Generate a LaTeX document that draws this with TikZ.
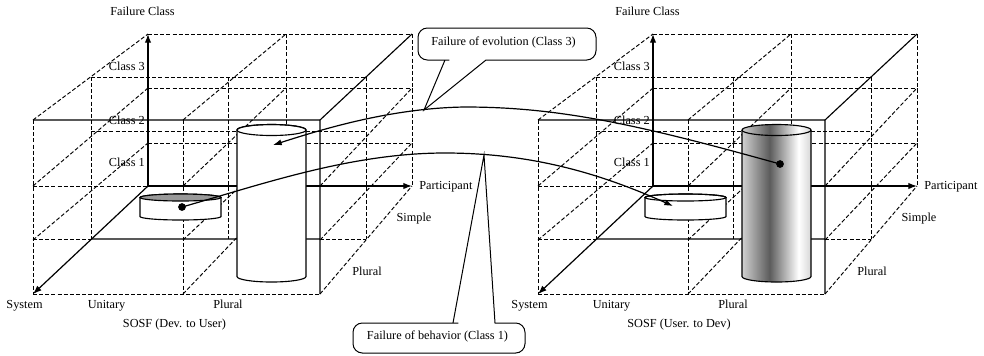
\documentclass[tikz,border=0pt]{standalone}
\usepackage{fontspec}
\setmainfont{Liberation Serif}
\usetikzlibrary{arrows.meta}

% body shading of the dark cylinder: light rim, dark band, highlight
\pgfdeclarehorizontalshading{cylgray}{100bp}{color(0bp)=(black!18); color(25bp)=(black!18); color(45bp)=(black!64); color(66bp)=(white); color(75bp)=(black!16); color(100bp)=(black!16)}

\tikzset{
  gridline/.style={line width=0.7pt, dash pattern=on 3pt off 1.6pt},
  edgeline/.style={line width=0.85pt},
  axisline/.style={line width=0.9pt, -{Latex[length=6.5pt,width=4.8pt]}},
  flowline/.style={line width=0.9pt, -{Latex[length=6.5pt,width=4.6pt]}},
  lbl/.style={inner sep=0pt, font=\fontsize{9.2}{11}\selectfont, text height=6.3pt, text depth=1.9pt},
  dotmark/.style={circle, fill=black, inner sep=0pt, minimum size=5.8pt},
  callout/.style={draw, fill=white, line width=0.75pt},
}

% one 3-D failure grid with its axes and labels; #1 is a name prefix
\newcommand\cubegrid[1]{%
  % back plane
  \draw[gridline] (148,34) -- (412,34) (148,88) -- (412,88) (148,143) -- (412,143)
                  (412,34) -- (412,186) (286,34) -- (286,186);
  % middle plane
  \draw[gridline] (91,77) -- (366,77) (91,131) -- (366,131)
                  (91,77) -- (91,239) (228,77) -- (228,239) (366,77) -- (366,239)
                  (33,186) -- (148,186) (33,239) -- (91,239) (320,239) -- (366,239);
  % front plane
  \draw[gridline] (33,120) -- (33,294) (183,120) -- (183,294) (33,294) -- (320,294);
  % depth lines
  \draw[gridline] (33,120) -- (148,34) (33,186) -- (148,88) (33,240) -- (148,143)
                  (183,120) -- (286,34) (183,186) -- (286,88) (183,240) -- (286,143)
                  (183,294) -- (286,186)
                  (320,186) -- (412,88) (320,240) -- (412,143) (320,294) -- (412,186);
  % solid front frame
  \draw[edgeline] (33,120) -- (320,120) -- (320,294) (320,120) -- (412,34) (91,239) -- (320,239);
  % axes
  \coordinate (#1-o) at (148,186);
  \coordinate (#1-up) at (148,34);
  \coordinate (#1-sys) at (33,294);
  \coordinate (#1-par) at (412,186);
  \draw[axisline] (#1-o) -- (#1-up);
  \draw[axisline] (#1-o) -- (#1-sys);
  \draw[axisline] (#1-o) -- (#1-par);
  % labels
  \node[lbl] (#1-fc) at (142.5,13) {Failure Class};
  \node[lbl, anchor=east] (#1-c3) at (145,68) {Class 3};
  \node[lbl, anchor=east] (#1-c2) at (145,122) {Class 2};
  \node[lbl, anchor=east] (#1-c1) at (145,164) {Class 1};
  \node[lbl, anchor=west] (#1-pt) at (419,187) {Participant};
  \node[lbl] (#1-si) at (414,219) {Simple};
  \node[lbl] (#1-pr) at (367,273) {Plural};
  \node[lbl] (#1-sy) at (24.5,306) {System};
  \node[lbl] (#1-un) at (106.5,306) {Unitary};
  \node[lbl] (#1-pb) at (228,306) {Plural};
}

\begin{document}
\begin{tikzpicture}[x=0.75pt, y=-0.75pt]
\useasboundingbox (0,0) rectangle (984,355);

% ---------- left grid: developer to user ----------
\cubegrid{L}
\node[lbl] (L-title) at (174.5,325) {SOSF (Dev. to User)};

% tall white cylinder
\filldraw[fill=white, edgeline] (237,130) -- (237,276.5)
  arc[start angle=180, end angle=360, x radius=25.875pt, y radius=4.125pt] -- (306,130)
  arc[start angle=0, end angle=180, x radius=25.875pt, y radius=4.125pt] -- cycle;
\draw[edgeline] (271.5,130) ellipse[x radius=25.875pt, y radius=4.125pt];

% flat disk with grey top
\filldraw[fill=white, edgeline] (140,197.5) -- (140,216.5)
  arc[start angle=180, end angle=360, x radius=30.375pt, y radius=2.625pt] -- (221,197.5)
  arc[start angle=0, end angle=180, x radius=30.375pt, y radius=2.625pt] -- cycle;
\filldraw[fill=black!40, edgeline] (180.5,197.5) ellipse[x radius=30.375pt, y radius=2.625pt];

% ---------- right grid: user to developer ----------
\begin{scope}[shift={(505,0)}]
\cubegrid{R}
\node[lbl] (R-title) at (174,325) {SOSF (User. to Dev)};

% tall shaded cylinder
\shade[shading=cylgray] (237,130) -- (237,276.5)
  arc[start angle=180, end angle=360, x radius=25.875pt, y radius=4.125pt] -- (306,130)
  arc[start angle=0, end angle=180, x radius=25.875pt, y radius=4.125pt] -- cycle;
\draw[edgeline] (237,130) -- (237,276.5)
  arc[start angle=180, end angle=360, x radius=25.875pt, y radius=4.125pt] -- (306,130);
\draw[edgeline] (271.5,130) ellipse[x radius=25.875pt, y radius=4.125pt];

% flat white disk
\filldraw[fill=white, edgeline] (140,197.5) -- (140,216.5)
  arc[start angle=180, end angle=360, x radius=30.375pt, y radius=2.625pt] -- (221,197.5)
  arc[start angle=0, end angle=180, x radius=30.375pt, y radius=2.625pt] -- cycle;
\draw[edgeline] (180.5,197.5) ellipse[x radius=30.375pt, y radius=2.625pt];
\end{scope}

% ---------- failure transitions ----------
\node[dotmark] (dotL) at (182,207) {};
\node[dotmark] (dotR) at (780,164) {};
\coordinate (tipA) at (273,145);
\coordinate (tipB) at (673,206);

\draw[flowline] (dotR.center) .. controls (640,125) and (560,107) .. (465,107)
                .. controls (390,108) and (320,130) .. (tipA);
\draw[flowline] (dotL.center) .. controls (260,185) and (350,153) .. (445,153)
                .. controls (540,153) and (610,178) .. (tipB);

% ---------- callouts ----------
\filldraw[callout] (445,60) -- (424,110) -- (486,60) -- (490,60)
  [rounded corners=7pt] -- (596,60) -- (596,28) -- (418,28) -- (418,60) -- (440,60)
  [sharp corners] -- (445,60);
\node[lbl] (evo) at (503.5,43) {Failure of evolution (Class 3)};

\filldraw[callout] (453,323) -- (484,155) -- (495,323) -- (499,323)
  [rounded corners=7pt] -- (525,323) -- (525,353) -- (353,353) -- (353,323) -- (449,323)
  [sharp corners] -- (453,323);
\node[lbl] (beh) at (437.5,337) {Failure of behavior (Class 1)};

\end{tikzpicture}
\end{document}
